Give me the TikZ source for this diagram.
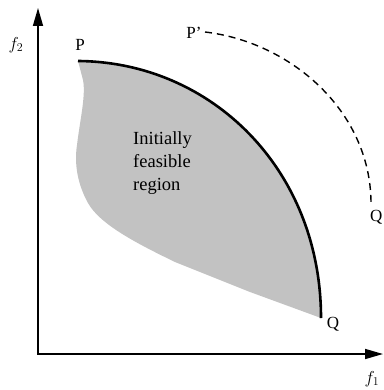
\documentclass[tikz,border=0pt]{standalone}
\usepackage{fontspec}
\setmainfont{Liberation Serif}
\usetikzlibrary{arrows.meta,calc}
\begin{document}
\begin{tikzpicture}[x=1pt,y=-1pt,
  lab/.style={inner sep=0pt,font=\fontsize{17}{20}\selectfont},
  axis/.style={line width=1.6pt,-{Triangle[length=18pt,width=10pt]}},
  front/.style={line width=2.6pt},
  moved/.style={line width=1.4pt,dash pattern=on 7pt off 5pt}]
\useasboundingbox (0,0) rectangle (383,390);
\coordinate (O) at (38,354);
\coordinate (Ytip) at (38,8);
\coordinate (Xtip) at (383,354);
\coordinate (P) at (78,61);
\coordinate (Q) at (321,318);
\coordinate (P2) at (205,32);
\coordinate (Q2) at (371,202);
% feasible region
\fill[black!24] (P) .. controls (212,62) and (321,170) .. (Q)
  -- (250,292) -- (175,262) .. controls (140,245) and (100,225) .. (88,203)
  .. controls (78,185) and (74,165) .. (77,145)
  .. controls (80,120) and (86,95) .. (83,80) -- cycle;
\draw[front] (P) .. controls (212,62) and (321,170) .. (Q);
\draw[moved] (P2) .. controls (290,42) and (370,110) .. (Q2);
\draw[axis] (O) -- (Ytip);
\draw[axis] ($(O)+(-1,0)$) -- (Xtip);
\node[lab] (f2) at (16,45) {$f_2$};
\node[lab] (f1) at (372,379) {$f_1$};
\node[lab] (Plab) at (80,45) {P};
\node[lab] (P2lab) at (194,33) {P'};
\node[lab] (Qlab) at (333,324) {Q};
\node[lab,anchor=east] (Q2lab) at (382.5,217) {Q};
\node[align=left,anchor=north west,inner sep=0pt,font=\fontsize{18.5}{23}\selectfont] (reg) at (133,131) {Initially\\feasible\\region};
\end{tikzpicture}
\end{document}
